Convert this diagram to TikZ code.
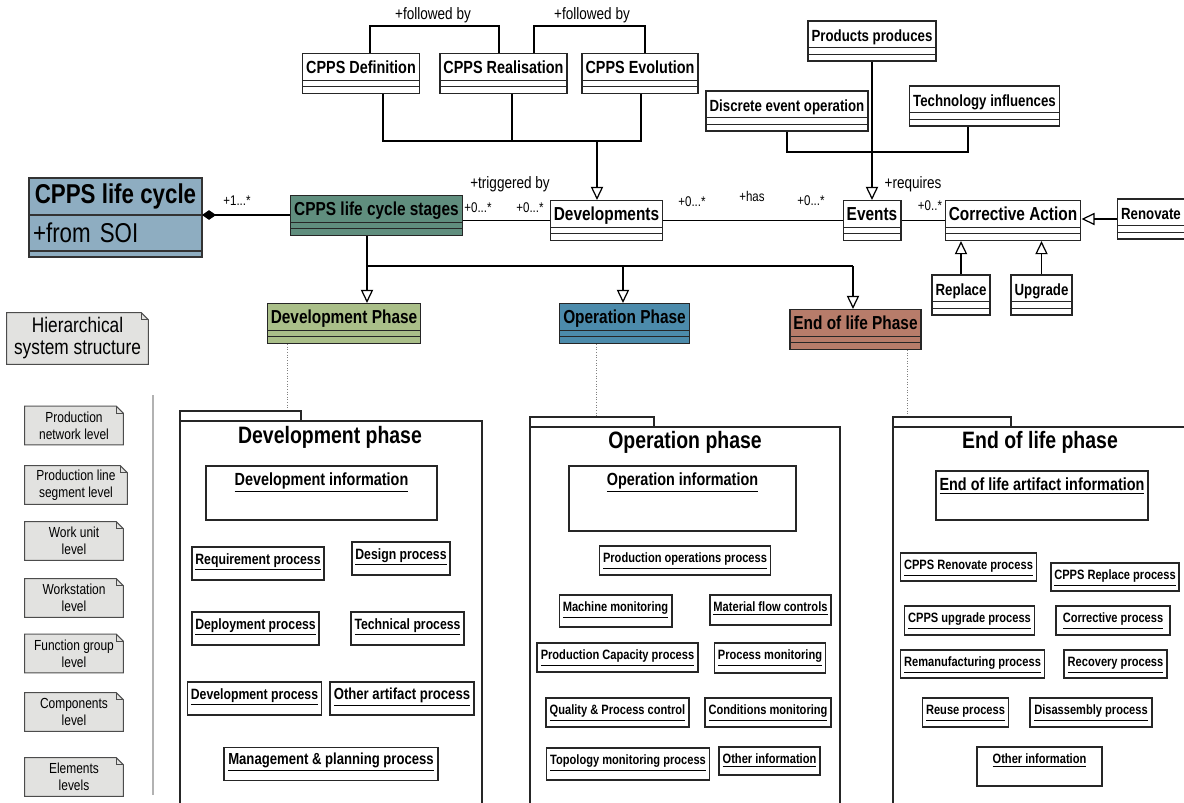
\documentclass[tikz,border=0pt]{standalone}
\usepackage{fontspec}
\setmainfont{Liberation Sans}[FakeStretch=0.82]
\usetikzlibrary{positioning, arrows.meta, calc}

\definecolor{lifeblue}{RGB}{142,173,193}
\definecolor{stageteal}{RGB}{96,142,126}
\definecolor{devgreen}{RGB}{170,191,137}
\definecolor{opblue}{RGB}{76,139,171}
\definecolor{eolred}{RGB}{183,124,106}
\definecolor{notegray}{RGB}{226,226,224}

\begin{document}
\begin{tikzpicture}[x=0.02cm, y=-0.02cm,
        class/.style={rectangle, draw=black!85, line width=0.8pt, fill=white, inner xsep=2pt, inner ysep=0pt,
            text height=11.3pt, text depth=11.3pt, font=\fontsize{10}{12}\selectfont\bfseries,
            path picture={
                \draw[line width=0.7pt] ([yshift=7.4pt]path picture bounding box.south west) -- ([yshift=7.4pt]path picture bounding box.south east);
                \draw[line width=0.7pt] ([yshift=3.7pt]path picture bounding box.south west) -- ([yshift=3.7pt]path picture bounding box.south east);}},
        bigclass/.style={class, font=\fontsize{10.7}{12}\selectfont\bfseries},
        smallclass/.style={class, font=\fontsize{9.2}{11}\selectfont\bfseries},
        lifebox/.style={rectangle, draw=black!80, line width=0.8pt, fill=lifeblue, minimum width=3.46cm, inner xsep=0.08cm, inner ysep=0pt, outer sep=0pt},
        proc/.style={rectangle, draw=black!85, line width=0.9pt, fill=white, inner xsep=2pt, inner ysep=0pt,
            text height=9.7pt, text depth=9pt, font=\fontsize{8.5}{10}\selectfont\bfseries},
        opproc/.style={proc, text height=9.6pt, text depth=7.4pt, font=\fontsize{7.7}{9}\selectfont\bfseries},
        info/.style={proc, text height=11pt, font=\fontsize{10}{12}\selectfont\bfseries},
        note/.style={rectangle, fill=notegray, align=center, inner sep=0pt, font=\fontsize{8.3}{9.5}\selectfont,
            minimum width=1.96cm, minimum height=0.76cm},
        notedraw/.style={draw=black!70, line width=0.6pt},
        mult/.style={font=\fontsize{8}{9}\selectfont, inner sep=1pt},
        role/.style={font=\fontsize{9.4}{11}\selectfont, inner sep=1pt},
        gen/.style={-{Triangle[open, length=7.5pt, width=7pt]}, line width=0.7pt},
        assoc/.style={line width=0.7pt},
        dep/.style={densely dotted, gray, line width=0.5pt},
        pkg/.style={draw=black!85, line width=0.8pt},
        pkgtitle/.style={font=\fontsize{13.5}{16}\selectfont\bfseries, inner sep=0pt}
    ]
        \useasboundingbox (0,0) rectangle (1184,802);
        \clip (0,0) rectangle (1184,802);

        % Life cycle
        \node[lifebox, minimum height=0.74cm, font=\fontsize{15.5}{18}\selectfont\bfseries] (lc) at (115.5,196.5) {CPPS life cycle};
        \node[lifebox, below=0pt of lc, minimum height=0.72cm, text width=3.3cm, align=left, font=\fontsize{15.5}{18}\selectfont] (lca) {+from SOI};
        \node[lifebox, below=0pt of lca, minimum height=0.12cm] (lcb) {};

        % Stages
        \node[smallclass, font=\fontsize{10}{12}\selectfont\bfseries, minimum width=2.28cm] (def) at (361,73.5) {CPPS Definition};
        \node[class, minimum width=2.5cm] (rea) at (503.5,73.5) {CPPS Realisation};
        \node[class, minimum width=2.28cm] (evo) at (640,73.5) {CPPS Evolution};
        \node[bigclass, fill=stageteal, minimum width=3.42cm] (stg) at (376.5,215.5) {CPPS life cycle stages};
        \node[bigclass, minimum width=2.22cm] (dvl) at (606.5,220.5) {Developments};

        % Events
        \node[smallclass, minimum width=2.54cm] (pro) at (872,41) {Products produces};
        \node[smallclass, minimum width=3.24cm] (des) at (787,111) {Discrete event operation};
        \node[smallclass, minimum width=2.98cm] (tec) at (984.5,106) {Technology influences};
        \node[bigclass, minimum width=1.12cm] (evt) at (872,220.5) {Events};
        \node[bigclass, minimum width=2.68cm] (ca) at (1013,220.5) {Corrective Action};
        \node[smallclass, minimum width=1.32cm] (ren) at (1151,219) {Renovate};
        \node[smallclass, minimum width=1.12cm] (rep) at (961,295) {Replace};
        \node[smallclass, minimum width=1.18cm] (upg) at (1041.5,295) {Upgrade};

        % Phases
        \node[bigclass, fill=devgreen, minimum width=3.04cm] (dph) at (344,323.5) {Development Phase};
        \node[bigclass, fill=opblue, minimum width=2.58cm] (oph) at (624.5,323.5) {Operation Phase};
        \node[bigclass, fill=eolred, minimum width=2.58cm] (eph) at (855.5,329.5) {End of life Phase};

        % Connections
        \draw[{Diamond[length=8pt, width=5.5pt]}-, assoc] (lc.south east) -- (lc.south east -| stg.west);
        \draw[assoc] (stg.east |- dvl) -- (dvl.west);
        \draw[assoc] (dvl) -- (evt);
        \draw[assoc] (evt) -- (ca);
        \draw[gen] (ren.west) -- (ren.west -| ca.east);
        \draw[gen] (rep) -- (rep |- ca.south);
        \draw[gen] (upg) -- (upg |- ca.south);

        \coordinate (jn) at (597,141);
        \draw[assoc] ($(def.south)+(22,0)$) |- (jn) -| ($(evo.south)+(1,0)$);
        \draw[assoc] ($(rea.south)+(8.5,0)$) |- (jn);
        \draw[gen] (jn) -- (jn |- dvl.north);
        \draw[assoc] ($(def.north)+(9,0)$) -- ++(0,-27) -| ($(rea.north)+(-4.5,0)$);
        \draw[assoc] ($(rea.north)+(30.5,0)$) -- ++(0,-27) -| ($(evo.north)+(5,0)$);

        \coordinate (jr) at (872,152);
        \draw[assoc] (des.south) |- (jr);
        \draw[assoc] ($(tec.south)+(-16.5,0)$) |- (jr);
        \draw[gen] (pro) -- (evt);

        \coordinate (jp) at (367,266);
        \coordinate (jo) at (623,266);
        \coordinate (je) at (853,266);
        \draw[assoc] (jp |- stg.south) -- (jp) -- (je);
        \draw[gen] (jp) -- (jp |- dph.north);
        \draw[gen] (jo) -- (jo |- oph.north);
        \draw[gen] (je) -- (je |- eph.north);

        \coordinate (dd) at (287,411);
        \coordinate (od) at (596,417);
        \coordinate (ed) at (907,417);
        \draw[dep] (dd |- dph.south) -- (dd);
        \draw[dep] (od |- oph.south) -- (od);
        \draw[dep] (ed |- eph.south) -- (ed);

        % Role labels
        \node[mult] (m1) at (237,201) {+1...*};
        \node[role] (r1) at (510,184) {+triggered by};
        \node[mult] (m2) at (478,208) {+0...*};
        \node[mult] (m3) at (530,208) {+0...*};
        \node[mult] (m4) at (692,202) {+0...*};
        \node[mult] (r2) at (752,196) {+has};
        \node[mult] (m5) at (811,201) {+0...*};
        \node[role] (r3) at (913,184) {+requires};
        \node[mult] (m6) at (930,206) {+0..*};
        \node[role] (r4) at (433,15) {+followed by};
        \node[role] (r5) at (592,15) {+followed by};

        % Hierarchy notes
        \draw[gray!60, line width=0.6pt] (153,395) -- (153,795);
        \node[note, minimum width=2.82cm, minimum height=1.02cm, font=\fontsize{12}{12.5}\selectfont] (hss) at (77.5,338.5) {Hierarchical\\system structure};
        \node[note] (nw) at (74,425.5) {Production\\network level};
        \node[note, minimum width=2.04cm] (ls) at (76,485) {Production line\\segment level};
        \node[note] (wu) at (74,541) {Work unit\\level};
        \node[note] (ws) at (74,598) {Workstation\\level};
        \node[note] (fg) at (74,653.5) {Function group\\level};
        \node[note] (cp) at (74,712) {Components\\level};
        \node[note] (el) at (74,777) {Elements\\levels};
        \foreach \n in {hss, nw, ls, wu, ws, fg, cp, el} {
            \fill[white] ([xshift=-4pt]\n.north east) -- (\n.north east) -- ([yshift=-4pt]\n.north east) -- cycle;
            \draw[notedraw] (\n.south west) -- (\n.north west) -- ([xshift=-4pt]\n.north east)
                -- ([yshift=-4pt]\n.north east) -- (\n.south east) -- cycle;
            \draw[notedraw, line width=0.4pt] ([xshift=-4pt]\n.north east) -- ([xshift=-4pt, yshift=-4pt]\n.north east) -- ([yshift=-4pt]\n.north east);
        }

        % Development package
        \draw[pkg] (180,411) rectangle (301,421);
        \draw[pkg] (180,421) rectangle (482,815);
        \node[pkgtitle] (dtl) at (330,437) {Development phase};
        \node[info, minimum width=4.62cm, text depth=19.6pt] (dinf) at (321.5,493) {\underline{Development information}};
        \node[proc, minimum width=2.6cm] (req) at (258,563.5) {\underline{Requirement process}};
        \node[proc, minimum width=1.96cm] (dsg) at (401,558.5) {\underline{Design process}};
        \node[proc, minimum width=2.5cm] (dpl) at (255.5,628.5) {\underline{Deployment process}};
        \node[proc, minimum width=2.22cm] (tch) at (407.5,628.5) {\underline{Technical process}};
        \node[proc, minimum width=2.66cm] (dvp) at (254.5,698.5) {\underline{Development process}};
        \node[proc, minimum width=2.88cm, font=\fontsize{9.1}{11}\selectfont\bfseries] (oth) at (402,698.5) {\underline{Other artifact process}};
        \node[proc, minimum width=4.28cm, font=\fontsize{9.1}{11}\selectfont\bfseries] (mgt) at (331,764) {\underline{Management \& planning process}};

        % Operation package
        \draw[pkg] (530,417) rectangle (654,427);
        \draw[pkg] (530,427) rectangle (840,815);
        \node[pkgtitle] (otl) at (685,442) {Operation phase};
        \node[info, minimum width=4.54cm, text depth=25.9pt] (oinf) at (682.5,498.5) {\underline{Operation information}};
        \node[opproc, minimum width=3.4cm, text depth=6.9pt] (pop) at (685,560.5) {\underline{Production operations process}};
        \node[opproc, minimum width=2.22cm, text depth=8.5pt] (mac) at (615.5,611) {\underline{Machine monitoring}};
        \node[opproc, minimum width=2.38cm] (mat) at (770.5,610) {\underline{Material flow controls}};
        \node[opproc, minimum width=3.18cm, text depth=6.9pt] (pcp) at (617.5,657.5) {\underline{Production Capacity process}};
        \node[opproc, minimum width=2.2cm] (pmo) at (770,658) {\underline{Process monitoring}};
        \node[opproc, minimum width=2.82cm, text depth=6.9pt] (qpc) at (617.5,712.5) {\underline{Quality \& Process control}};
        \node[opproc, minimum width=2.48cm, text depth=6.9pt] (cmo) at (768,712.5) {\underline{Conditions monitoring}};
        \node[opproc, minimum width=3.2cm, text depth=8.5pt] (tmp) at (628,764) {\underline{Topology monitoring process}};
        \node[opproc, minimum width=2.02cm, text depth=6.3pt] (oin) at (769.5,761) {\underline{Other information}};

        % End of life package
        \draw[pkg] (893,417) rectangle (1011,427);
        \draw[pkg] (893,427) rectangle (1195,815);
        \node[pkgtitle] (etl) at (1040,442) {End of life phase};
        \node[info, minimum width=4.2cm, text depth=16.8pt] (einf) at (1042,495.5) {\underline{End of life artifact information}};
        \node[opproc, minimum width=2.7cm, text depth=6.3pt] (rnp) at (968.5,567) {\underline{CPPS Renovate process}};
        \node[opproc, minimum width=2.52cm, text depth=6.3pt] (rpp) at (1115,577) {\underline{CPPS Replace process}};
        \node[opproc, minimum width=2.58cm, text depth=6.9pt] (ugp) at (969.5,620.5) {\underline{CPPS upgrade process}};
        \node[opproc, minimum width=2.28cm, text depth=6.9pt] (cor) at (1113,620.5) {\underline{Corrective process}};
        \node[opproc, minimum width=2.86cm, text depth=6.3pt] (rem) at (972.5,664) {\underline{Remanufacturing process}};
        \node[opproc, minimum width=2.02cm, text depth=6.3pt] (rec) at (1115.5,664) {\underline{Recovery process}};
        \node[opproc, minimum width=1.7cm, text depth=6.9pt] (reu) at (965.5,712.5) {\underline{Reuse process}};
        \node[opproc, minimum width=2.44cm, text depth=6.9pt] (dis) at (1091,712.5) {\underline{Disassembly process}};
        \node[opproc, minimum width=2.5cm, text depth=12.5pt] (eoi) at (1039.5,766.5) {\underline{Other information}};
\end{tikzpicture}
\end{document}
